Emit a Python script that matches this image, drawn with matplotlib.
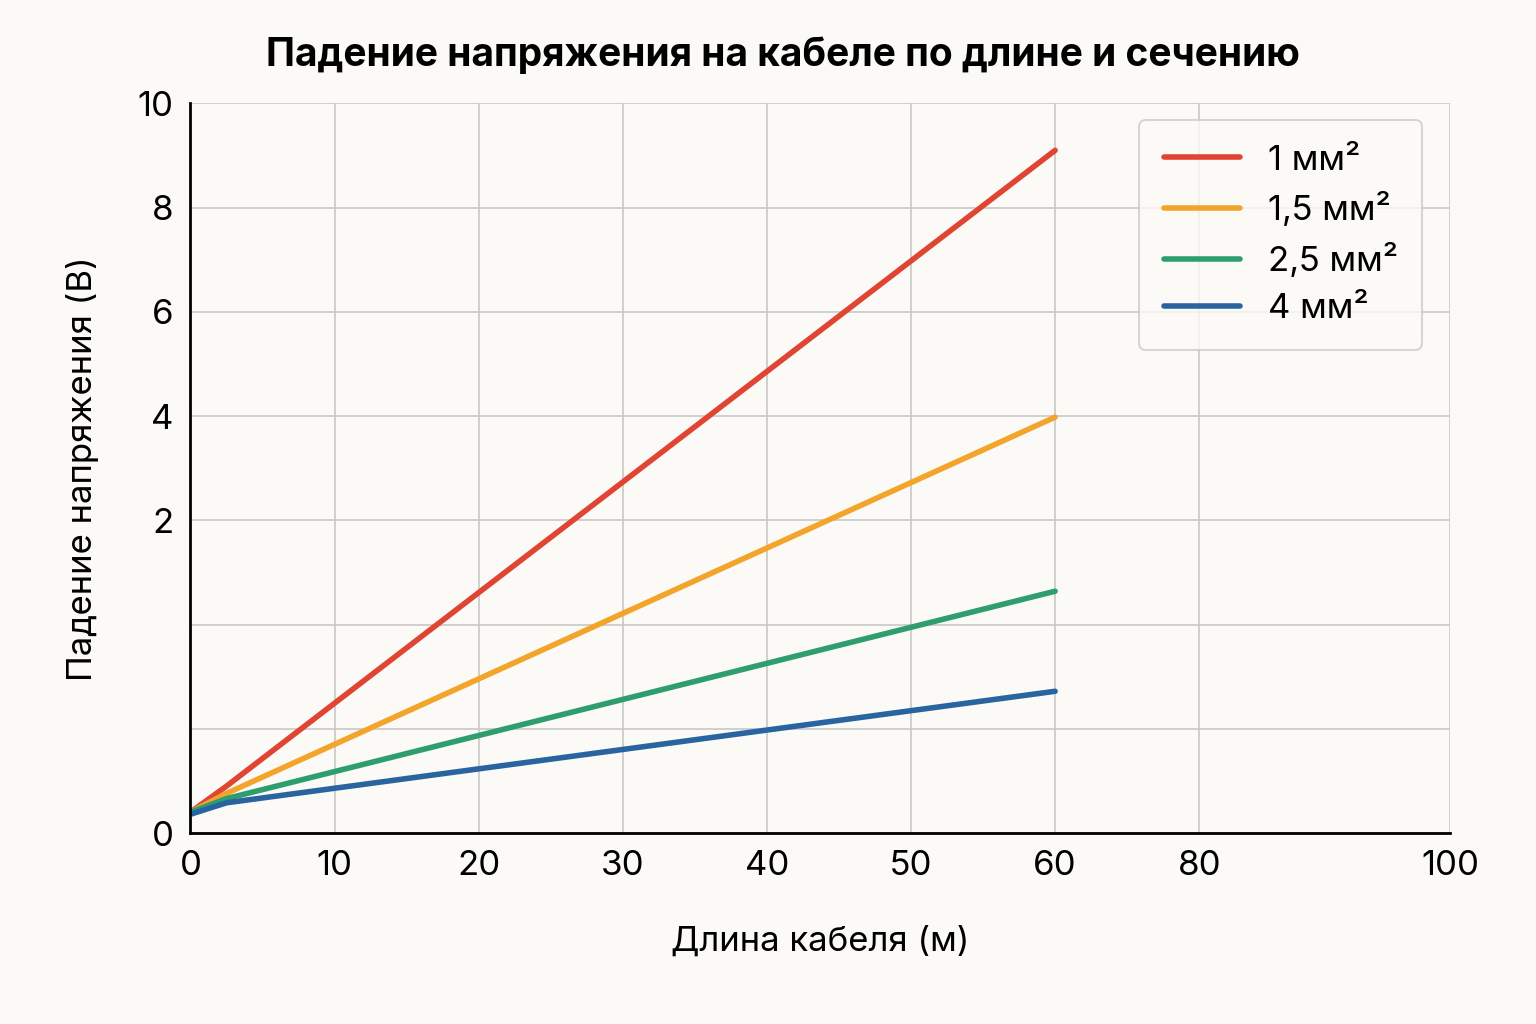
import matplotlib
matplotlib.use("Agg")
import matplotlib.pyplot as plt
plt.rcParams["font.family"] = ["Inter", "DejaVu Sans"]

# x positions on the chart's (non-uniform) axis; y in grid-position units
x_len = [0, 2.5, 60]
series = {
    "1 мм²":   [0.2, 0.45, 6.55],
    "1,5 мм²": [0.2, 0.38, 3.99],
    "2,5 мм²": [0.2, 0.33, 2.32],
    "4 мм²":   [0.18, 0.29, 1.36],
}
colors = ["#e04433", "#f3a42a", "#2e9e6e", "#2a64a0"]
xtick_pos = [0, 10, 20, 30, 40, 50, 60, 70, 87.4]
xtick_lab = ["0", "10", "20", "30", "40", "50", "60", "80", "100"]
ytick_pos = [0, 1, 2, 3, 4, 5, 6, 7]
ytick_lab = ["0", "", "", "2", "4", "6", "8", "10"]

bg = "#fbfaf6"
fig = plt.figure(figsize=(15.36, 10.24), dpi=100, facecolor=bg)
ax = fig.add_axes([0.124, 0.1865, 0.82, 0.7125], facecolor=bg)
for (name, ys), c in zip(series.items(), colors):
    ax.plot(x_len, ys, color=c, lw=4, label=name, solid_capstyle="round")
ax.set_xlim(0, 87.4)
ax.set_ylim(0, 7)
ax.set_xticks(xtick_pos, xtick_lab)
ax.set_yticks(ytick_pos, ytick_lab)
ax.tick_params(labelsize=25, length=0, pad=12)
ax.grid(color="#c8c8c8", lw=1.2)
for s in ["top", "right"]:
    ax.spines[s].set_visible(False)
for s in ["left", "bottom"]:
    ax.spines[s].set_linewidth(2)
ax.set_xlabel("Длина кабеля (м)", fontsize=25, labelpad=32)
ax.set_ylabel("Падение напряжения (В)", fontsize=25, labelpad=28)
fig.suptitle("Падение напряжения на кабеле по длине и сечению", fontsize=28,
             fontweight="bold", y=0.965, x=0.51)
leg = ax.legend(loc="upper right", fontsize=25, frameon=True, handlelength=2.2,
                borderpad=0.7, labelspacing=0.45, borderaxespad=0,
                bbox_to_anchor=(0.978, 0.977))
leg.get_frame().set_edgecolor("#cccccc")
leg.get_frame().set_facecolor(bg)
leg.get_frame().set_linewidth(1.5)
fig.savefig("out.png", facecolor=bg)
